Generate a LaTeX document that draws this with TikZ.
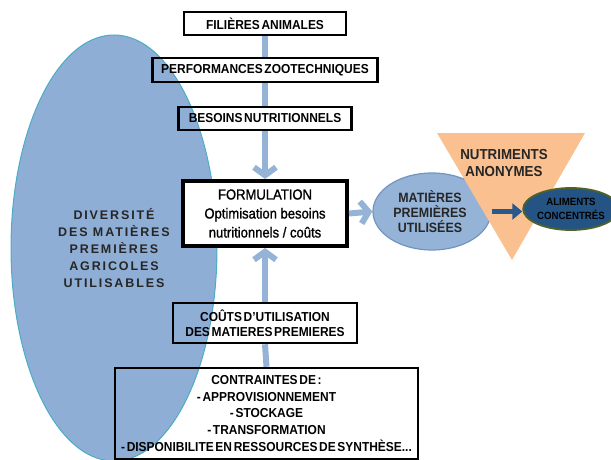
\documentclass[tikz,border=0pt]{standalone}
\usepackage{fontspec}
\setmainfont{Liberation Sans}[FakeStretch=0.92,WordSpace=0.5]
\newfontfamily\spacedfont{Liberation Sans}[LetterSpace=15]
\newfontfamily\formfont{Liberation Sans}[FakeStretch=0.9,UprightFeatures={FakeBold=1.2}]
\usetikzlibrary{arrows.meta,shapes.geometric}
\definecolor{ellblue}{RGB}{143,174,214}
\definecolor{ellteal}{RGB}{75,172,198}
\definecolor{linkblue}{RGB}{149,179,215}
\definecolor{matedge}{RGB}{115,148,190}
\definecolor{nutorange}{RGB}{250,192,144}
\definecolor{alifill}{RGB}{36,84,132}
\definecolor{aliedge}{RGB}{79,98,40}
\definecolor{arrblue}{RGB}{40,88,140}
\definecolor{txtgray}{RGB}{38,38,38}
\begin{document}
\begin{tikzpicture}[x=1pt,y=-1pt,
  box/.style={draw=black,line width=2.5pt,align=center,inner sep=0pt,
    font=\bfseries\fontsize{13}{15}\selectfont},
  conn/.style={line width=6pt,color=linkblue},
  connarr/.style={conn,-{Straight Barb[length=8pt,width=22pt]}},
  darkarr/.style={line width=5pt,color=arrblue,-{Triangle[length=10pt,width=16pt]}}]
\useasboundingbox (0,0) rectangle (611,460);
% big ellipse on the left
\node[ellipse,draw=ellteal,fill=ellblue,line width=1pt,minimum width=206,minimum height=426,
  align=center,text=txtgray,font=\spacedfont\bfseries\fontsize{12.5}{17}\selectfont] (div) at (114,248)
  {DIVERSITÉ\\DES MATIÈRES\\PREMIÈRES\\AGRICOLES\\UTILISABLES};
% boxes on the axis
\node[box,minimum width=162,minimum height=23] (fil) at (265,23.5) {FILIÈRES ANIMALES};
\node[box,minimum width=225,minimum height=24] (perf) at (265,70) {PERFORMANCES ZOOTECHNIQUES};
\node[box,minimum width=173,minimum height=23] (bes) at (265,118.5) {BESOINS NUTRITIONNELS};
\node[box,fill=white,line width=4pt,minimum width=164,minimum height=65,
  font=\formfont\fontsize{14.5}{19}\selectfont] (form) at (265,213.5)
  {FORMULATION\\Optimisation besoins\\nutritionnels / coûts};
\node[box,minimum width=184,minimum height=40] (couts) at (265,323)
  {COÛTS D’UTILISATION\\DES MATIERES PREMIERES};
\node[box,minimum width=303,minimum height=91,font=\bfseries\fontsize{13}{16.7}\selectfont] (contr) at (266.5,413.5)
  {CONTRAINTES DE :\\- APPROVISIONNEMENT\\- STOCKAGE\\- TRANSFORMATION\\- DISPONIBILITE EN RESSOURCES DE SYNTHÈSE...};
% right part
\node[ellipse,draw=matedge,fill=linkblue,line width=1.2pt,minimum width=118,minimum height=77] (mat) at (432,211.5) {};
\node[align=center,text=txtgray,font=\bfseries\fontsize{13.5}{15}\selectfont] (matlbl) at (430,211.5)
  {MATIÈRES\\PREMIÈRES\\UTILISÉES};
\fill[nutorange] (437,133) -- (585,133) -- (512,260) -- cycle;
\node[align=center,text=txtgray,font=\bfseries\fontsize{14.5}{17}\selectfont] (nut) at (504,163)
  {NUTRIMENTS\\ANONYMES};
\node[ellipse,draw=aliedge,fill=alifill,line width=1.8pt,minimum width=84,minimum height=42,inner sep=0pt,
  align=center,text=black,font=\bfseries\fontsize{10.5}{13.5}\selectfont] (ali) at (571,209)
  {ALIMENTS\\CONCENTRÉS};
% connectors
\draw[conn] (fil.south) -- (perf.north);
\draw[conn] (perf.south) -- (bes.north);
\draw[connarr] (bes.south) -- (form.north);
\draw[conn] (contr.north) -- (couts.south);
\draw[connarr] (couts.north) -- (form.south);
\draw[connarr] (form.east) -- (mat.west);
\draw[darkarr] (mat.east) -- (mat.east -| ali.west);
\end{tikzpicture}
\end{document}
